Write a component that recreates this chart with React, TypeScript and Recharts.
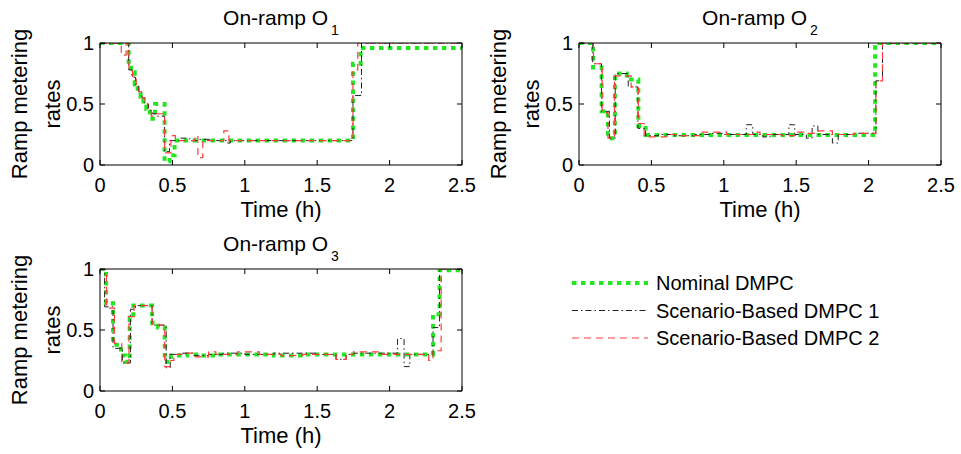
import React from "react";
import { Legend, Line, LineChart, XAxis, YAxis } from "recharts";

const timeTicks = [0, 0.5, 1, 1.5, 2, 2.5];
const rateTicks = [0, 0.5, 1];
const seriesNames = ["Nominal DMPC", "Scenario-Based DMPC 1", "Scenario-Based DMPC 2"];

// On-ramp O1 (step times in h, metering rate)
const o1NominalT = [0, 0.198, 0.215, 0.24, 0.26, 0.28, 0.3, 0.32, 0.345, 0.38, 0.446, 0.48, 0.515, 1.747, 1.8, 2.5];
const o1NominalV = [1, 0.82, 0.76, 0.66, 0.6, 0.56, 0.52, 0.46, 0.38, 0.5, 0.03, 0.08, 0.2, 0.83, 0.96, 0.96];
const o1Scen1T = [0, 0.198, 0.22, 0.245, 0.265, 0.29, 0.31, 0.335, 0.36, 0.39, 0.446, 0.48, 0.55, 0.62, 0.69, 0.76, 0.88, 0.9, 1.747, 1.806, 2.5];
const o1Scen1V = [1, 0.78, 0.72, 0.65, 0.6, 0.55, 0.5, 0.45, 0.42, 0.4, 0.11, 0.2, 0.22, 0.2, 0.21, 0.2, 0.18, 0.2, 0.57, 1, 1];
const o1Scen2T = [0, 0.147, 0.18, 0.2, 0.225, 0.25, 0.27, 0.29, 0.31, 0.33, 0.355, 0.39, 0.446, 0.49, 0.52, 0.655, 0.676, 0.71, 0.855, 0.89, 1.747, 1.78, 2.5];
const o1Scen2V = [1, 0.9, 1, 0.77, 0.72, 0.65, 0.6, 0.55, 0.5, 0.45, 0.4, 0.42, 0.1, 0.24, 0.2, 0.24, 0.06, 0.2, 0.28, 0.2, 0.78, 1, 1];

// On-ramp O2
const o2NominalT = [0, 0.097, 0.156, 0.2, 0.248, 0.33, 0.41, 0.46, 2.045, 2.5];
const o2NominalV = [1, 0.8, 0.44, 0.22, 0.75, 0.7, 0.32, 0.245, 1, 1];
const o2Scen1T = [0, 0.095, 0.155, 0.21, 0.25, 0.34, 0.407, 0.46, 0.55, 0.65, 0.8, 0.9, 1.0, 1.155, 1.2, 1.27, 1.32, 1.45, 1.49, 1.57, 1.61, 1.65, 1.75, 1.79, 1.9, 2.05, 2.096, 2.5];
const o2Scen1V = [1, 0.83, 0.44, 0.22, 0.75, 0.64, 0.3, 0.24, 0.25, 0.24, 0.25, 0.26, 0.25, 0.33, 0.25, 0.23, 0.25, 0.33, 0.25, 0.22, 0.32, 0.25, 0.18, 0.25, 0.26, 0.69, 1, 1];
const o2Scen2T = [0, 0.1, 0.16, 0.2, 0.245, 0.36, 0.41, 0.45, 0.48, 0.6, 0.7, 0.85, 1.02, 1.2, 1.25, 1.4, 1.5, 1.58, 1.65, 1.75, 1.9, 2.05, 2.096, 2.5];
const o2Scen2V = [1, 0.83, 0.43, 0.22, 0.73, 0.64, 0.34, 0.24, 0.23, 0.25, 0.24, 0.27, 0.25, 0.27, 0.25, 0.24, 0.27, 0.26, 0.28, 0.25, 0.26, 0.69, 1, 1];

// On-ramp O3
const o3NominalT = [0, 0.042, 0.09, 0.145, 0.175, 0.205, 0.23, 0.36, 0.4, 0.447, 0.49, 0.6, 0.7, 0.8, 0.9, 1.0, 1.2, 1.4, 1.6, 1.8, 2.0, 2.2, 2.3, 2.345, 2.5];
const o3NominalV = [1, 0.72, 0.38, 0.29, 0.24, 0.6, 0.7, 0.56, 0.52, 0.24, 0.29, 0.3, 0.29, 0.3, 0.3, 0.3, 0.29, 0.3, 0.3, 0.3, 0.3, 0.3, 0.63, 0.99, 0.99];
const o3Scen1T = [0, 0.032, 0.09, 0.155, 0.21, 0.245, 0.3, 0.36, 0.457, 0.485, 0.55, 0.65, 0.75, 0.85, 1.0, 1.2, 1.5, 1.63, 1.7, 1.75, 2.055, 2.1, 2.14, 2.3, 2.345, 2.5];
const o3Scen1V = [1, 0.69, 0.35, 0.23, 0.67, 0.7, 0.7, 0.54, 0.19, 0.3, 0.31, 0.29, 0.3, 0.31, 0.3, 0.31, 0.3, 0.26, 0.3, 0.31, 0.43, 0.2, 0.3, 0.52, 1, 1];
const o3Scen2T = [0, 0.045, 0.1, 0.15, 0.185, 0.2, 0.235, 0.36, 0.447, 0.49, 0.51, 0.6, 0.65, 0.75, 0.8, 0.95, 1.1, 1.25, 1.4, 1.63, 1.7, 1.75, 1.95, 2.0, 2.27, 2.3, 2.356, 2.5];
const o3Scen2V = [1, 0.68, 0.39, 0.23, 0.23, 0.61, 0.7, 0.54, 0.2, 0.25, 0.3, 0.31, 0.28, 0.32, 0.3, 0.32, 0.3, 0.29, 0.3, 0.26, 0.3, 0.32, 0.3, 0.3, 0.25, 0.33, 1, 1];

const FONT = "'Liberation Sans', Arial, Helvetica, sans-serif";

const lineStyles = [
  { color: "#22e622", width: 4, dash: "4.5 4.5" },
  { color: "#222222", width: 1, dash: "6 3 1.5 3" },
  { color: "#ff3b3b", width: 1.2, dash: "7 5" },
];

const toSteps = (t: number[], v: number[]) => t.map((x, i) => ({ t: x, v: v[i] }));

const panels = [
  { id: 1, left: 0, top: 0, width: 480, series: [toSteps(o1NominalT, o1NominalV), toSteps(o1Scen1T, o1Scen1V), toSteps(o1Scen2T, o1Scen2V)] },
  { id: 2, left: 479, top: 0, width: 480, series: [toSteps(o2NominalT, o2NominalV), toSteps(o2Scen1T, o2Scen1V), toSteps(o2Scen2T, o2Scen2V)] },
  { id: 3, left: 0, top: 226, width: 961, series: [toSteps(o3NominalT, o3NominalV), toSteps(o3Scen1T, o3Scen1V), toSteps(o3Scen2T, o3Scen2V)] },
];

const noTick = () => <g />;

const LegendBox = (props: any) => {
  const items = props.payload || [];
  return (
    <div style={{ position: "absolute", left: 565, top: 40 }}>
      <svg width={380} height={95}>
        {items.map((item: any, i: number) => {
          const s = lineStyles[seriesNames.indexOf(item.value)] || lineStyles[i];
          const y = 17 + i * 27.5;
          return (
            <g key={item.value}>
              <line x1={7} x2={83} y1={y} y2={y} stroke={s.color} strokeWidth={s.width} strokeDasharray={s.dash} />
              <text x={91} y={y + 7} fontSize={20} fill="#000" fontFamily={FONT}>
                {item.value}
              </text>
            </g>
          );
        })}
      </svg>
    </div>
  );
};

function Panel({ id, width, series }: { id: number; width: number; series: { t: number; v: number }[][] }) {
  const title = (p: any) => {
    const vb = p.viewBox;
    return (
      <text x={vb.x + vb.width / 2} y={25} textAnchor="middle" fontSize={21} fill="#000" fontFamily={FONT}>
        <tspan>On-ramp O</tspan>
        <tspan dx={3} dy={10} fontSize={14}>
          {id}
        </tspan>
      </text>
    );
  };
  const xLabel = (p: any) => {
    const vb = p.viewBox;
    return (
      <text x={vb.x + vb.width / 2} y={vb.y + 52} textAnchor="middle" fontSize={22} fill="#000" fontFamily={FONT}>
        Time (h)
      </text>
    );
  };
  const yLabel = (p: any) => {
    const vb = p.viewBox;
    const cy = vb.y + vb.height / 2;
    return (
      <g fontSize={22} fill="#000" fontFamily={FONT}>
        <text x={vb.x + 27} y={cy} textAnchor="middle" transform={`rotate(-90 ${vb.x + 27} ${cy})`}>
          Ramp metering
        </text>
        <text x={vb.x + 60} y={cy} textAnchor="middle" transform={`rotate(-90 ${vb.x + 60} ${cy})`}>
          rates
        </text>
      </g>
    );
  };
  const tickStyle = { fill: "#000", fontSize: 20, fontFamily: FONT };
  return (
    <LineChart width={width} height={230} margin={{ top: 42, right: width - 463, bottom: 25, left: 0 }}>
      <XAxis
        xAxisId="b"
        type="number"
        dataKey="t"
        domain={[0, 2.5]}
        allowDataOverflow
        ticks={timeTicks}
        height={40}
        tickSize={-5}
        tickMargin={18}
        stroke="#000"
        tick={tickStyle}
        label={xLabel}
      />
      <XAxis
        xAxisId="t"
        orientation="top"
        type="number"
        dataKey="t"
        domain={[0, 2.5]}
        allowDataOverflow
        ticks={timeTicks}
        height={1}
        tickSize={-5}
        stroke="#000"
        tick={noTick}
        label={title}
      />
      <YAxis
        yAxisId="l"
        type="number"
        domain={[0, 1]}
        allowDataOverflow
        ticks={rateTicks}
        width={100}
        tickSize={-5}
        tickMargin={11}
        stroke="#000"
        tick={tickStyle}
        label={yLabel}
      />
      <YAxis
        yAxisId="r"
        orientation="right"
        type="number"
        domain={[0, 1]}
        allowDataOverflow
        ticks={rateTicks}
        width={1}
        tickSize={-5}
        stroke="#000"
        tick={noTick}
      />
      {series.map((data, i) => (
        <Line
          key={seriesNames[i]}
          name={seriesNames[i]}
          xAxisId="b"
          yAxisId="l"
          data={data}
          dataKey="v"
          type="stepAfter"
          stroke={lineStyles[i].color}
          strokeWidth={lineStyles[i].width}
          strokeDasharray={lineStyles[i].dash}
          dot={false}
          activeDot={false}
          isAnimationActive={false}
        />
      ))}
      {id === 3 && (
        <Legend content={LegendBox} wrapperStyle={{ left: 0, top: 0, width: 0, height: 0, overflow: "visible" }} />
      )}
    </LineChart>
  );
}

export default function App() {
  return (
    <div style={{ position: "absolute", left: 0, top: 0, width: 961, height: 454, background: "#fff", fontFamily: FONT, overflow: "hidden" }}>
      {panels.map((p) => (
        <div key={p.id} style={{ position: "absolute", left: p.left, top: p.top }}>
          <Panel id={p.id} width={p.width} series={p.series} />
        </div>
      ))}
    </div>
  );
}
